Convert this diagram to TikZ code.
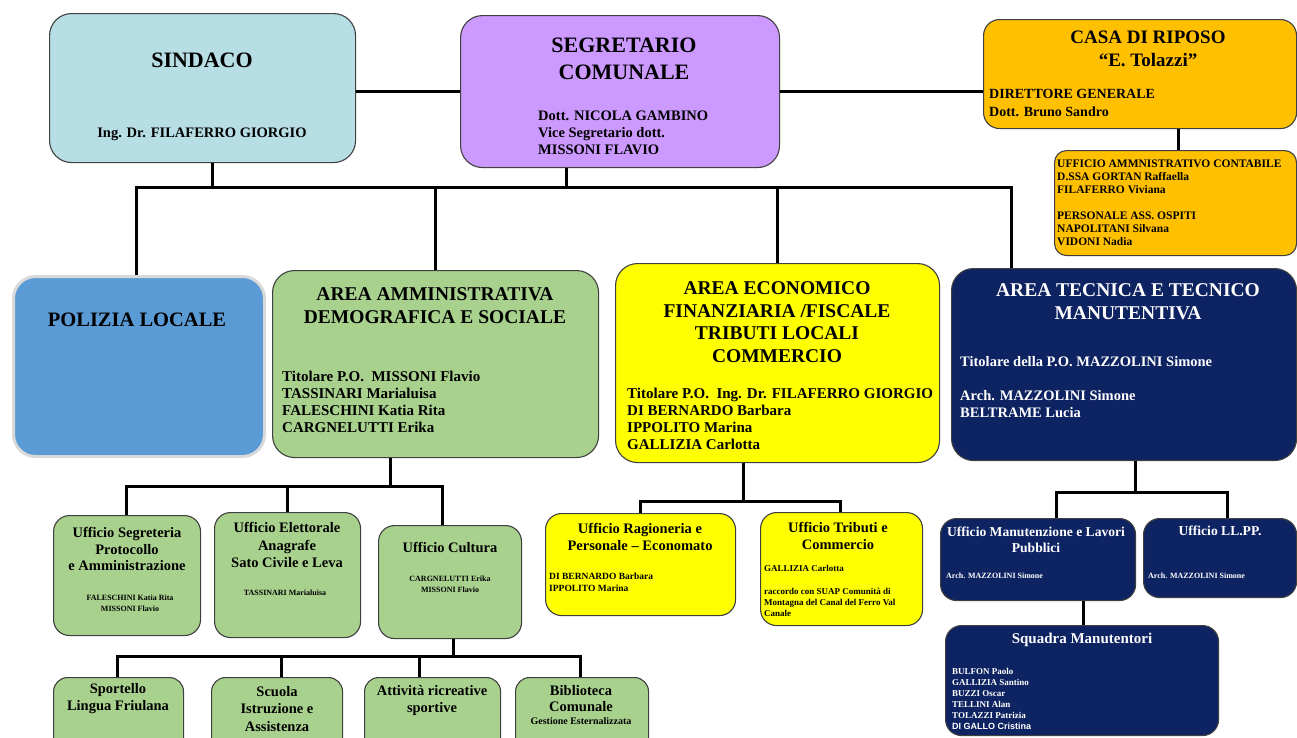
\documentclass[tikz,border=0pt]{standalone}
\usepackage{fontspec}
\setmainfont{Liberation Serif}
\newfontfamily\arialfont{Liberation Sans}

\definecolor{sindcol}{HTML}{B8DEE5}
\definecolor{segrcol}{HTML}{CC99FF}
\definecolor{casacol}{HTML}{FFC000}
\definecolor{polcol}{HTML}{5B9BD5}
\definecolor{ammcol}{HTML}{A9D18E}
\definecolor{ecocol}{HTML}{FFFF00}
\definecolor{teccol}{HTML}{0E2361}

\newcommand{\setfs}[2]{\fontsize{#1}{#2}\selectfont\bfseries}

\tikzset{
  box/.style={draw=black!75, line width=1.1pt, rounded corners=22pt, anchor=north west, inner sep=0pt},
  link/.style={draw=black, line width=3pt},
  ctr/.style={inner sep=0pt, align=center},
  lft/.style={inner sep=0pt, align=left, anchor=west},
}

\begin{document}
\begin{tikzpicture}[x=1pt,y=-1pt]
        \useasboundingbox (0,0) rectangle (1297,737);
        \clip (0,0) rectangle (1297,737);

        \node[box, fill=sindcol, minimum width=306pt, minimum height=149pt] (sind) at (49,13) {};
        \node[box, fill=segrcol, minimum width=319pt, minimum height=152pt] (segr) at (460,15) {};
        \node[box, fill=casacol, rounded corners=16pt, minimum width=313pt, minimum height=109pt] (casa) at (983,19) {};
        \node[box, fill=casacol, rounded corners=12pt, minimum width=242pt, minimum height=105pt] (casauff) at (1054,150) {};

        \node[ctr, font=\setfs{22}{26}] (sindT) at (202,60) {SINDACO};
        \node[ctr, font=\setfs{14.5}{17}] (sindN) at (202,134) {Ing. Dr. FILAFERRO GIORGIO};
        \node[ctr, font=\setfs{22}{27}] (segrT) at (624,59) {SEGRETARIO\\COMUNALE};
        \node[lft, font=\setfs{14.5}{17}] (segrN) at (538,133) {Dott. NICOLA GAMBINO\\Vice Segretario dott.\\MISSONI FLAVIO};
        \node[ctr, font=\setfs{19}{23}] (casaT) at (1148,49) {CASA DI RIPOSO\\“E. Tolazzi”};
        \node[lft, font=\setfs{14}{18}] (casaN) at (989,103) {DIRETTORE GENERALE\\Dott. Bruno Sandro};
        \node[lft, font=\setfs{11.5}{13}] (casauffN) at (1057,203) {UFFICIO AMMNISTRATIVO CONTABILE\\D.SSA GORTAN Raffaella\\FILAFERRO Viviana\\[13pt]PERSONALE ASS. OSPITI\\NAPOLITANI Silvana\\VIDONI Nadia};

        \node[box, fill=polcol, draw=black!15, line width=3pt, minimum width=251pt, minimum height=180pt] (pol) at (12,275) {};
        \node[box, fill=ammcol, minimum width=326pt, minimum height=187pt] (amm) at (272,270) {};
        \node[box, fill=ecocol, minimum width=324pt, minimum height=199pt] (eco) at (615,263) {};
        \node[box, fill=teccol, minimum width=345pt, minimum height=192pt] (tec) at (951,268) {};

        \node[ctr, font=\setfs{20.5}{24}] (polT) at (137,320) {POLIZIA LOCALE};
        \node[ctr, font=\setfs{19.5}{23}] (ammT) at (435,306) {AREA AMMINISTRATIVA\\DEMOGRAFICA E SOCIALE};
        \node[lft, font=\setfs{15}{17}] (ammN) at (282,402) {Titolare P.O.\ \ MISSONI Flavio\\TASSINARI Marialuisa\\FALESCHINI Katia Rita\\CARGNELUTTI Erika};
        \node[ctr, font=\setfs{19.5}{22.7}] (ecoT) at (777,322) {AREA ECONOMICO\\FINANZIARIA /FISCALE\\TRIBUTI LOCALI\\COMMERCIO};
        \node[lft, font=\setfs{15}{17}] (ecoN) at (627,419) {Titolare P.O.\ \ Ing. Dr. FILAFERRO GIORGIO\\DI BERNARDO Barbara\\IPPOLITO Marina\\GALLIZIA Carlotta};
        \node[ctr, font=\setfs{19.5}{23}, text=white] (tecT) at (1128,302) {AREA TECNICA E TECNICO\\MANUTENTIVA};
        \node[lft, font=\setfs{14.5}{16.7}, text=white] (tecN) at (960,387) {Titolare della P.O. MAZZOLINI Simone\\[16.7pt]Arch. MAZZOLINI Simone\\BELTRAME Lucia};

        \node[box, fill=ammcol, rounded corners=16pt, minimum width=147pt, minimum height=120pt] (segre) at (53,515) {};
        \node[box, fill=ammcol, rounded corners=16pt, minimum width=146pt, minimum height=125pt] (elet) at (214,512) {};
        \node[box, fill=ammcol, rounded corners=16pt, minimum width=143pt, minimum height=113pt] (cult) at (378,525) {};

        \node[ctr, font=\setfs{14.5}{16.5}] (segreT) at (127,549) {Ufficio Segreteria\\Protocollo\\e Amministrazione};
        \node[ctr, font=\setfs{8}{11}] (segreN) at (130,603) {FALESCHINI Katia Rita\\MISSONI Flavio};
        \node[ctr, font=\setfs{14.5}{17.5}] (eletT) at (287,545) {Ufficio Elettorale\\Anagrafe\\Sato Civile e Leva};
        \node[ctr, font=\setfs{8}{11}] (eletN) at (285,593) {TASSINARI Marialuisa};
        \node[ctr, font=\setfs{14.5}{17}] (cultT) at (450,547) {Ufficio Cultura};
        \node[ctr, font=\setfs{8}{11}] (cultN) at (450,584) {CARGNELUTTI Erika\\MISSONI Flavio};

        \node[box, fill=ammcol, rounded corners=14pt, minimum width=130pt, minimum height=80pt] (sport) at (53,677) {};
        \node[box, fill=ammcol, rounded corners=14pt, minimum width=131pt, minimum height=80pt] (scuola) at (211,677) {};
        \node[box, fill=ammcol, rounded corners=14pt, minimum width=136pt, minimum height=80pt] (attiv) at (364,677) {};
        \node[box, fill=ammcol, rounded corners=14pt, minimum width=133pt, minimum height=80pt] (bibl) at (515,677) {};

        \node[ctr, font=\setfs{14.5}{17}] (sportT) at (118,699) {Sportello\\Lingua Friulana};
        \node[ctr, font=\setfs{14.5}{17.5}] (scuolaT) at (277,709) {Scuola\\Istruzione e\\Assistenza};
        \node[ctr, font=\setfs{14.5}{17}] (attivT) at (432,700) {Attività ricreative\\sportive};
        \node[ctr, font=\setfs{14.5}{16}] (biblT) at (581,699) {Biblioteca\\Comunale};
        \node[ctr, font=\setfs{10}{12}] (biblN) at (581,721) {Gestione Esternalizzata};

        \node[box, fill=ecocol, rounded corners=16pt, minimum width=190pt, minimum height=102pt] (ragio) at (545,513) {};
        \node[box, fill=ecocol, rounded corners=16pt, minimum width=162pt, minimum height=113pt] (trib) at (760,512) {};

        \node[ctr, font=\setfs{14.5}{17}] (ragioT) at (640,537) {Ufficio Ragioneria e\\Personale – Economato};
        \node[lft, font=\setfs{9.5}{11.5}] (ragioN) at (549,582) {DI BERNARDO Barbara\\IPPOLITO Marina};
        \node[ctr, font=\setfs{14.5}{17}] (tribT) at (838,536) {Ufficio Tributi e\\Commercio};
        \node[lft, font=\setfs{9}{11.3}] (tribN) at (764,591) {GALLIZIA Carlotta\\[11.3pt]raccordo con SUAP Comunità di\\Montagna del Canal del Ferro Val\\Canale};

        \node[box, fill=teccol, rounded corners=16pt, minimum width=195pt, minimum height=82pt] (manut) at (940,518) {};
        \node[box, fill=teccol, rounded corners=16pt, minimum width=153pt, minimum height=79pt] (llpp) at (1143,518) {};
        \node[box, fill=teccol, rounded corners=16pt, minimum width=273pt, minimum height=110pt] (squad) at (945,625) {};

        \node[ctr, font=\setfs{13.6}{15.5}, text=white] (manutT) at (1036,540) {Ufficio Manutenzione e Lavori\\Pubblici};
        \node[lft, font=\setfs{8}{10}, text=white] (manutN) at (946,576) {Arch. MAZZOLINI Simone};
        \node[ctr, font=\setfs{13.6}{15.5}, text=white] (llppT) at (1220,531) {Ufficio LL.PP.};
        \node[lft, font=\setfs{8}{10}, text=white] (llppN) at (1148,576) {Arch. MAZZOLINI Simone};
        \node[ctr, font=\setfs{15}{17}, text=white] (squadT) at (1082,640) {Squadra Manutentori};
        \node[lft, font=\setfs{9}{11}, text=white] (squadN) at (952,699) {BULFON Paolo\\GALLIZIA Santino\\BUZZI Oscar\\TELLINI Alan\\TOLAZZI Patrizia\\{\arialfont DI GALLO Cristina}};

        \coordinate (dSind) at (212,187);
        \coordinate (dSegr) at (566,187);
        \coordinate (busL) at (136,187);
        \coordinate (busR) at (1011,187);
        \coordinate (dAmm) at (435,187);
        \coordinate (dEco) at (777,187);
        \coordinate (dCasa) at (1178,140);
        \draw[link, line width=2.5pt] (segr.west -| sind.east) -- (segr.west);
        \draw[link, line width=2.5pt] (segr.east) -- (segr.east -| casa.west);
        \draw[link] (casa.south -| dCasa) -- (casauff.north -| dCasa);
        \draw[link] (sind.south -| dSind) -- (dSind);
        \draw[link] (segr.south -| dSegr) -- (dSegr);
        \draw[link] (pol.north -| busL) -- (busL) -- (busR) -- (tec.north -| busR);
        \draw[link] (dAmm) -- (amm.north -| dAmm);
        \draw[link] (dEco) -- (eco.north -| dEco);

        \coordinate (aBusL) at (126,486);
        \coordinate (aBusR) at (442,486);
        \coordinate (dAmmB) at (390,486);
        \coordinate (dElet) at (287,486);
        \draw[link] (amm.south -| dAmmB) -- (dAmmB);
        \draw[link] (segre.north -| aBusL) -- (aBusL) -- (aBusR) -- (cult.north -| aBusR);
        \draw[link] (dElet) -- (elet.north -| dElet);

        \coordinate (cBusL) at (117,656);
        \coordinate (cBusR) at (580,656);
        \coordinate (dCult) at (453,656);
        \coordinate (dScuola) at (281,656);
        \coordinate (dAttiv) at (419,656);
        \draw[link] (cult.south -| dCult) -- (dCult);
        \draw[link] (sport.north -| cBusL) -- (cBusL) -- (cBusR) -- (bibl.north -| cBusR);
        \draw[link] (dScuola) -- (scuola.north -| dScuola);
        \draw[link] (dAttiv) -- (attiv.north -| dAttiv);

        \coordinate (eBusL) at (640,501);
        \coordinate (eBusR) at (840,501);
        \coordinate (dEcoB) at (743,501);
        \draw[link] (eco.south -| dEcoB) -- (dEcoB);
        \draw[link] (ragio.north -| eBusL) -- (eBusL) -- (eBusR) -- (trib.north -| eBusR);

        \coordinate (tBusL) at (1056,492);
        \coordinate (tBusR) at (1227,492);
        \coordinate (dTecB) at (1135,492);
        \coordinate (dManut) at (1083,612);
        \draw[link] (tec.south -| dTecB) -- (dTecB);
        \draw[link] (manut.north -| tBusL) -- (tBusL) -- (tBusR) -- (llpp.north -| tBusR);
        \draw[link] (manut.south -| dManut) -- (squad.north -| dManut);
\end{tikzpicture}
\end{document}
